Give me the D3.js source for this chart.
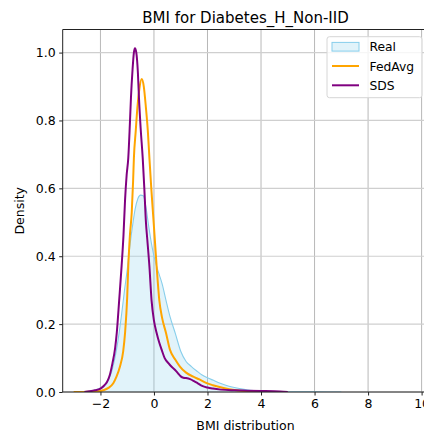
<!DOCTYPE html>
<html><head><meta charset="utf-8">
<script src="https://cdn.jsdelivr.net/npm/d3@7"></script>
<style>body{margin:0;background:#fff}svg{display:block;font-family:"DejaVu Sans",sans-serif}</style>
</head><body><svg id="c" width="424" height="434"></svg>
<script>
const title = "BMI for Diabetes_H_Non-IID";
const xTicks = [-2, 0, 2, 4, 6, 8, 10];
const yTicks = [0.0, 0.2, 0.4, 0.6, 0.8, 1.0];
const seriesNames = ["Real", "FedAvg", "SDS"];
const realX = [-2.6,-2.4,-2.2,-2.0,-1.8,-1.6,-1.5,-1.4,-1.3,-1.2,-1.1,-1.0,-0.9,-0.8,-0.7,-0.6,-0.5,-0.4,-0.3,-0.2,-0.1,0,0.1,0.2,0.3,0.45,0.6,0.8,1.0,1.2,1.4,1.6,1.8,2.0,2.2,2.5,2.8,3.2,3.6,4.0,4.5,5.0,6.0,7.0];
const realY = [0,0.002,0.006,0.012,0.024,0.055,0.085,0.125,0.175,0.235,0.30,0.36,0.43,0.49,0.54,0.57,0.58,0.578,0.545,0.49,0.44,0.40,0.37,0.345,0.32,0.27,0.222,0.172,0.12,0.09,0.075,0.062,0.05,0.042,0.035,0.025,0.017,0.01,0.005,0.003,0.0015,0.0008,0.0003,0];
const fedX = [-3.0,-2.4,-2.0,-1.9,-1.7,-1.52,-1.4,-1.27,-1.15,-1.08,-1.0,-0.96,-0.9,-0.83,-0.78,-0.75,-0.68,-0.62,-0.55,-0.46,-0.38,-0.30,-0.23,-0.17,-0.1,-0.03,0.04,0.1,0.2,0.3,0.45,0.6,0.8,0.97,1.2,1.47,1.7,1.97,2.2,2.6,3.0,3.5,4.0];
const fedY = [0,0.001,0.003,0.005,0.012,0.026,0.045,0.075,0.12,0.174,0.28,0.37,0.46,0.53,0.62,0.689,0.77,0.837,0.89,0.922,0.9,0.837,0.77,0.689,0.6,0.52,0.44,0.37,0.27,0.22,0.174,0.124,0.095,0.075,0.057,0.045,0.037,0.026,0.02,0.012,0.006,0.002,0];
const sdsX = [-2.6,-2.4,-2.2,-2.0,-1.85,-1.75,-1.65,-1.55,-1.45,-1.39,-1.3,-1.21,-1.14,-1.08,-1.02,-0.96,-0.9,-0.86,-0.8,-0.75,-0.71,-0.66,-0.6,-0.56,-0.5,-0.42,-0.36,-0.3,-0.25,-0.17,-0.09,0,0.1,0.2,0.29,0.4,0.54,0.65,0.79,0.9,1.0,1.1,1.2,1.35,1.5,1.65,1.8,2.0,2.2,2.5,3.0,3.5,4.0,4.5,5.0];
const sdsY = [0,0.002,0.005,0.01,0.02,0.03,0.05,0.085,0.13,0.174,0.27,0.37,0.46,0.566,0.64,0.689,0.79,0.866,0.95,1.0,1.013,1.0,0.94,0.866,0.78,0.689,0.6,0.5,0.45,0.37,0.27,0.21,0.174,0.145,0.124,0.1,0.085,0.075,0.065,0.055,0.046,0.042,0.041,0.038,0.032,0.025,0.018,0.013,0.01,0.007,0.005,0.004,0.003,0.002,0];

const svg = d3.select("#c");
const L = 62.7, R = 428.3, T = 29.5, B = 392;
const x = d3.scaleLinear().domain([-3.41, 10.25]).range([L, R]);
const y = d3.scaleLinear().domain([0, 1.068]).range([B, T]);

// grid
const g = svg.append("g");
g.selectAll(".vg").data(xTicks).enter().append("line")
  .attr("x1", d => x(d)).attr("x2", d => x(d)).attr("y1", T).attr("y2", B)
  .attr("stroke", "#b8b8b8").attr("stroke-width", 1);
g.selectAll(".hg").data(yTicks).enter().append("line")
  .attr("x1", L).attr("x2", R).attr("y1", d => y(d)).attr("y2", d => y(d))
  .attr("stroke", "#cfcfcf").attr("stroke-width", 1.2);

svg.append("clipPath").attr("id", "clp").append("rect")
  .attr("x", L).attr("y", T).attr("width", R - L).attr("height", B - T);
const plot = svg.append("g").attr("clip-path", "url(#clp)");

const realD = realX.map((v, i) => [v, realY[i]]);
const fedD = fedX.map((v, i) => [v, fedY[i]]);
const sdsD = sdsX.map((v, i) => [v, sdsY[i]]);
const curve = d3.curveMonotoneX;
plot.append("path").datum(realD)
  .attr("d", d3.area().x(d => x(d[0])).y0(y(0)).y1(d => y(d[1])).curve(curve))
  .attr("fill", "#87ceeb").attr("fill-opacity", 0.25);
plot.append("path").datum(realD)
  .attr("d", d3.line().x(d => x(d[0])).y(d => y(d[1])).curve(curve))
  .attr("fill", "none").attr("stroke", "#87ceeb").attr("stroke-width", 1.1);
const ln = d3.line().x(d => x(d[0])).y(d => y(d[1])).curve(curve);
plot.append("path").datum(fedD).attr("d", ln).attr("fill", "none")
  .attr("stroke", "#ffa500").attr("stroke-width", 2);
plot.append("path").datum(sdsD).attr("d", ln).attr("fill", "none")
  .attr("stroke", "#800080").attr("stroke-width", 2);

// axes
const xa = svg.append("g").attr("transform", `translate(0,${B})`)
  .call(d3.axisBottom(x).tickValues(xTicks).tickSize(3.5).tickPadding(3.5).tickFormat(d => d < 0 ? "\u2212" + Math.abs(d) : d));
const ya = svg.append("g").attr("transform", `translate(${L},0)`)
  .call(d3.axisLeft(y).tickValues(yTicks).tickSize(3.5).tickPadding(3.5).tickFormat(d3.format(".1f")));
[xa, ya].forEach(a => {
  a.selectAll("text").attr("font-size", 12.5).attr("fill", "#000").attr("font-family", "DejaVu Sans");
  a.selectAll("line").attr("stroke", "#222");
  a.select(".domain").remove();
});
// spines
svg.append("line").attr("x1", L).attr("x2", L).attr("y1", T).attr("y2", B).attr("stroke", "#222").attr("stroke-width", 1);
svg.append("line").attr("x1", L).attr("x2", R).attr("y1", B).attr("y2", B).attr("stroke", "#222").attr("stroke-width", 1);
svg.append("line").attr("x1", L).attr("x2", R).attr("y1", T).attr("y2", T).attr("stroke", "#222").attr("stroke-width", 1);

svg.append("text").attr("x", (L + R) / 2).attr("y", 23).attr("text-anchor", "middle")
  .attr("font-size", 15).text(title);
svg.append("text").attr("x", (L + R) / 2).attr("y", 429.5).attr("text-anchor", "middle")
  .attr("font-size", 12.5).text("BMI distribution");
svg.append("text").attr("transform", `translate(23.5,${(T + B) / 2}) rotate(-90)`).attr("text-anchor", "middle")
  .attr("font-size", 12.5).text("Density");

// legend
const lg = svg.append("g");
lg.append("rect").attr("x", 327).attr("y", 36.7).attr("width", 95).attr("height", 61).attr("rx", 2.5)
  .attr("fill", "#fff").attr("fill-opacity", 0.8).attr("stroke", "#d6d6d6");
const ly = [46.7, 66, 85.3];
lg.append("rect").attr("x", 332).attr("y", ly[0] - 4.3).attr("width", 27).attr("height", 8.7)
  .attr("fill", "#87ceeb").attr("fill-opacity", 0.25).attr("stroke", "#87ceeb");
lg.append("line").attr("x1", 332).attr("x2", 359).attr("y1", ly[1]).attr("y2", ly[1]).attr("stroke", "#ffa500").attr("stroke-width", 2);
lg.append("line").attr("x1", 332).attr("x2", 359).attr("y1", ly[2]).attr("y2", ly[2]).attr("stroke", "#800080").attr("stroke-width", 2);
lg.selectAll(".lt").data(seriesNames).enter().append("text")
  .attr("x", 369.5).attr("y", (d, i) => ly[i] + 4.5).attr("font-size", 12.3).text(d => d);
</script></body></html>
